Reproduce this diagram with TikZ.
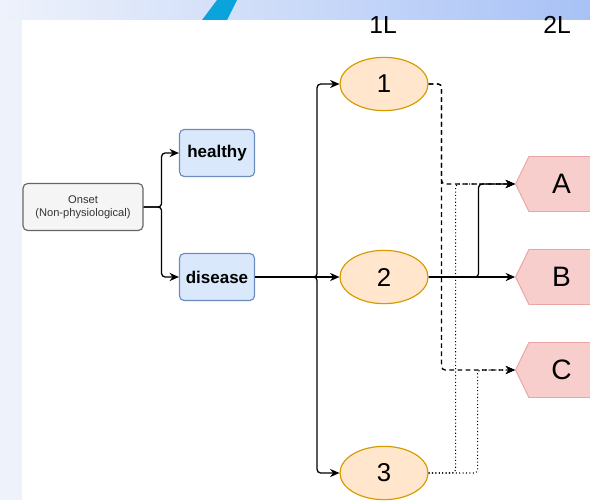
\documentclass[tikz,border=0pt]{standalone}
\usepackage{fontspec}
\setmainfont{Liberation Sans}
\usetikzlibrary{shapes.geometric,shapes.symbols,arrows.meta}
\definecolor{bgblue}{HTML}{EEF2FB}
\definecolor{stripblue}{HTML}{A8C2F6}
\definecolor{barcyan}{HTML}{0AA3DC}
\definecolor{onsetfill}{HTML}{F5F5F5}
\definecolor{onsetline}{HTML}{666666}
\definecolor{statefill}{HTML}{DAE8FC}
\definecolor{stateline}{HTML}{6C8EBF}
\definecolor{linefill}{HTML}{FFE6CC}
\definecolor{lineline}{HTML}{D79B00}
\definecolor{sigfill}{HTML}{F8CECC}
\definecolor{sigline}{HTML}{E8A6A4}

\begin{document}
\begin{tikzpicture}[x=0.03cm,y=-0.03cm,
  onsetbox/.style={draw=onsetline,fill=onsetfill,line width=1pt,rounded corners=4pt,minimum width=3.6cm,minimum height=1.41cm,align=center,text=black!80,font=\fontsize{9.5}{11}\selectfont},
  statebox/.style={draw=stateline,fill=statefill,line width=1pt,rounded corners=4pt,minimum width=2.25cm,minimum height=1.41cm,font=\fontsize{14.5}{16}\selectfont\bfseries},
  lineellipse/.style={ellipse,draw=lineline,fill=linefill,line width=1pt,minimum width=2.64cm,minimum height=1.6cm,inner sep=0pt,font=\fontsize{22}{24}\selectfont},
  targetsig/.style={signal,signal to=west,signal from=nowhere,signal pointer angle=128,draw=sigline,fill=sigfill,line width=0.8pt,minimum width=2.35cm,minimum height=1.65cm,inner sep=0pt,anchor=west,font=\fontsize{24}{26}\selectfont},
  levellabel/.style={font=\fontsize{21}{23}\selectfont},
  conn/.style={line width=1.1pt,rounded corners=3pt,-{Stealth[length=8pt,width=7pt]}}]
\useasboundingbox (0,0) rectangle (590,500);
\fill[bgblue] (0,0) rectangle (590,500);
\shade[left color=bgblue,right color=stripblue] (0,0) rectangle (590,20);
\fill[barcyan] (202,20) -- (227,20) -- (237,0) -- (217,0) -- cycle;
\fill[white] (22,20) rectangle (590,500);

\node[levellabel] (lvl1) at (383,25) {1L};
\node[levellabel] (lvl2) at (557,25) {2L};

\node[onsetbox] (onset) at (83,207) {Onset\\(Non-physiological)};
\node[statebox] (healthy) at (217,153) {healthy};
\node[statebox] (disease) at (217,277) {disease};

\node[lineellipse] (l1) at (384,84) {1};
\node[lineellipse] (l2) at (384,277) {2};
\node[lineellipse] (l3) at (384,473) {3};

\node[targetsig] (a) at (515,184) {A};
\node[targetsig] (b) at (515,277) {B};
\node[targetsig] (c) at (515,370) {C};

\draw[conn] (onset.east) -- ++(18,0) |- (healthy.west);
\draw[conn] (onset.east) -- ++(18,0) |- (disease.west);
\draw[conn] (disease.east) -- ++(62,0) |- (l1.west);
\draw[conn] (disease.east) -- (l2.west);
\draw[conn] (disease.east) -- ++(62,0) |- (l3.west);

\draw[conn,dash pattern=on 4pt off 3pt] (l1.east) -- ++(13,0) |- (a.west);
\draw[conn,dash pattern=on 4pt off 3pt] (l1.east) -- ++(13,0) |- (c.west);
\draw[conn,line width=0.9pt,dotted] (l3.east) -- ++(27,0) |- (a.west);
\draw[conn,line width=0.9pt,dotted] (l3.east) -- ++(49,0) |- (c.west);
\draw[conn] (l2.east) -- ++(50,0) |- (a.west);
\draw[conn] (l2.east) -- (b.west);
\end{tikzpicture}
\end{document}
